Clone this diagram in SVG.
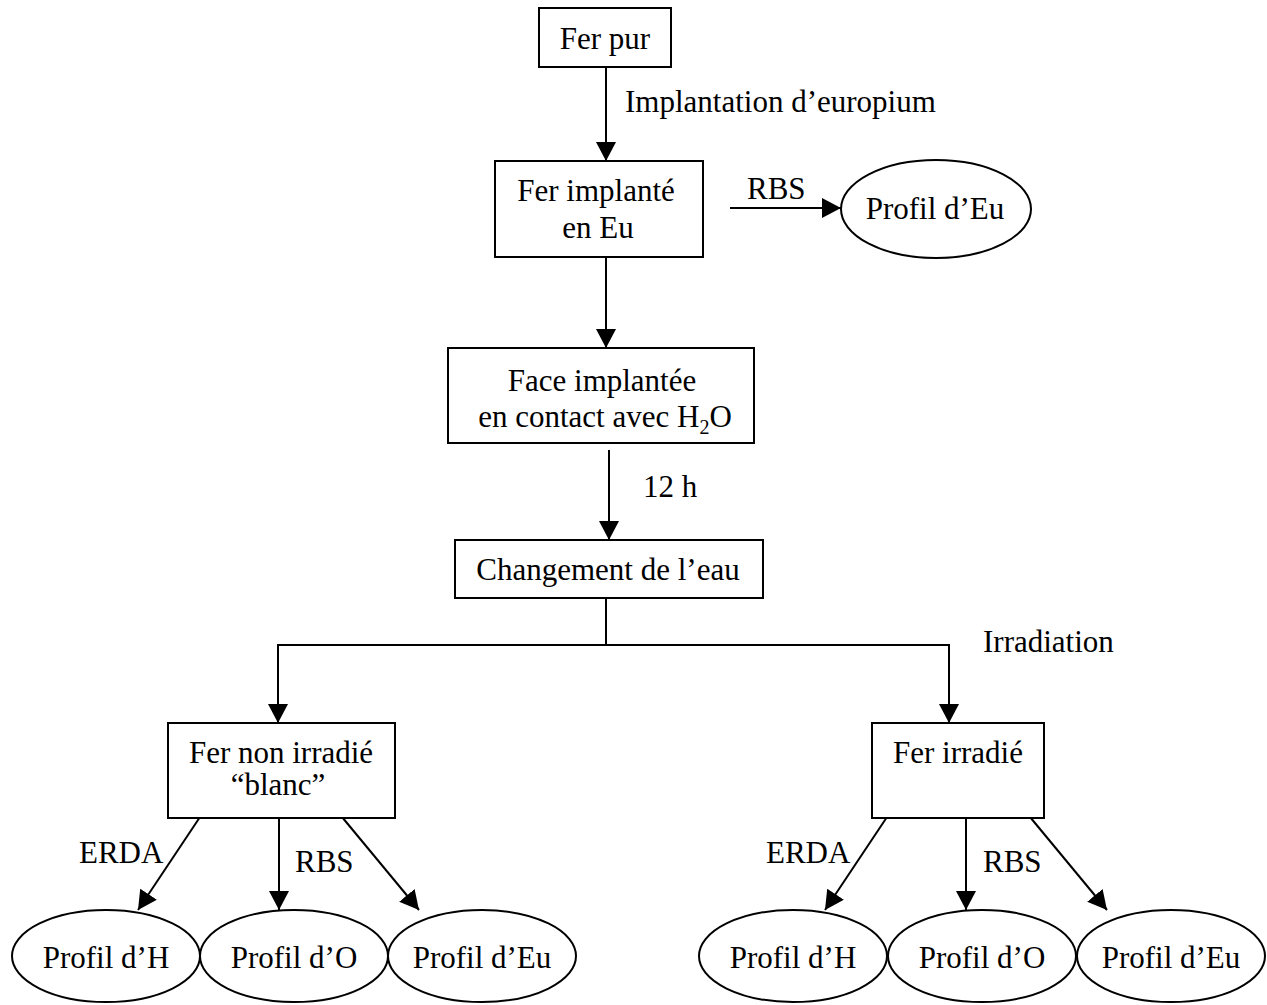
<svg xmlns="http://www.w3.org/2000/svg" width="1267" height="1005" viewBox="0 0 1267 1005">
<style>
text{font-family:"Liberation Serif","Times New Roman",serif;font-size:31px;fill:#000}
.c{text-anchor:middle}
.box{fill:#fff;stroke:#000;stroke-width:2}
.ell{fill:#fff;stroke:#000;stroke-width:2}
.ln{fill:none;stroke:#000;stroke-width:2}
</style>
<defs>
<marker id="ah" markerUnits="userSpaceOnUse" markerWidth="22" markerHeight="22" refX="19" refY="10" orient="auto">
<path d="M0,0 L19,10 L0,20 Z" fill="#000"/>
</marker>
</defs>
<rect width="1267" height="1005" fill="#fff"/>
<g id="connectors">
<line class="ln" x1="606" y1="67" x2="606" y2="161" marker-end="url(#ah)"/>
<line class="ln" x1="730" y1="208" x2="841" y2="208" marker-end="url(#ah)"/>
<line class="ln" x1="606" y1="257" x2="606" y2="348" marker-end="url(#ah)"/>
<line class="ln" x1="609" y1="450" x2="609" y2="540" marker-end="url(#ah)"/>
<polyline class="ln" points="606,598 606,645 278,645 278,723" marker-end="url(#ah)"/>
<polyline class="ln" points="606,645 949,645 949,723" marker-end="url(#ah)"/>
<line class="ln" x1="200" y1="817" x2="138" y2="910" marker-end="url(#ah)"/>
<line class="ln" x1="279" y1="818" x2="279" y2="910" marker-end="url(#ah)"/>
<line class="ln" x1="342" y1="817" x2="419" y2="910" marker-end="url(#ah)"/>
<line class="ln" x1="887" y1="817" x2="825" y2="910" marker-end="url(#ah)"/>
<line class="ln" x1="966" y1="818" x2="966" y2="910" marker-end="url(#ah)"/>
<line class="ln" x1="1030" y1="817" x2="1107" y2="910" marker-end="url(#ah)"/>
<text x="625" y="112">Implantation d’europium</text>
<text x="747" y="199">RBS</text>
<text x="643" y="497">12 h</text>
<text x="983" y="652">Irradiation</text>
<text x="79" y="863">ERDA</text>
<text x="295" y="872">RBS</text>
<text x="766" y="863">ERDA</text>
<text x="983" y="872">RBS</text>
</g>
<g id="fer-pur"><rect class="box" x="539" y="8" width="132" height="59"/><text class="c" x="605" y="49">Fer pur</text></g>
<g id="fer-implante"><rect class="box" x="495" y="161" width="208" height="96"/><text class="c" x="596" y="201">Fer implanté</text><text class="c" x="598" y="238">en Eu</text></g>
<g id="profil-eu-top"><ellipse class="ell" cx="936" cy="209" rx="95" ry="49"/><text class="c" x="935" y="219">Profil d’Eu</text></g>
<g id="face-implantee"><rect class="box" x="448" y="348" width="306" height="95"/><text class="c" x="602" y="391">Face implantée</text><text class="c" x="605" y="427">en contact avec H<tspan font-size="20" dy="7">2</tspan><tspan dy="-7">O</tspan></text></g>
<g id="changement"><rect class="box" x="455" y="540" width="308" height="58"/><text class="c" x="608" y="580">Changement de l’eau</text></g>
<g id="fer-non-irradie"><rect class="box" x="168" y="723" width="227" height="95"/><text class="c" x="281" y="763">Fer non irradié</text><text class="c" x="278" y="795">“blanc”</text></g>
<g id="fer-irradie"><rect class="box" x="872" y="723" width="172" height="95"/><text class="c" x="958" y="763">Fer irradié</text></g>
<g id="l-profil-h"><ellipse class="ell" cx="106" cy="956" rx="94" ry="46"/><text class="c" x="106" y="968">Profil d’H</text></g>
<g id="l-profil-o"><ellipse class="ell" cx="294" cy="956" rx="94" ry="46"/><text class="c" x="294" y="968">Profil d’O</text></g>
<g id="l-profil-eu"><ellipse class="ell" cx="482" cy="956" rx="94" ry="46"/><text class="c" x="482" y="968">Profil d’Eu</text></g>
<g id="r-profil-h"><ellipse class="ell" cx="793" cy="956" rx="94" ry="46"/><text class="c" x="793" y="968">Profil d’H</text></g>
<g id="r-profil-o"><ellipse class="ell" cx="982" cy="956" rx="94" ry="46"/><text class="c" x="982" y="968">Profil d’O</text></g>
<g id="r-profil-eu"><ellipse class="ell" cx="1171" cy="956" rx="94" ry="46"/><text class="c" x="1171" y="968">Profil d’Eu</text></g>
</svg>
